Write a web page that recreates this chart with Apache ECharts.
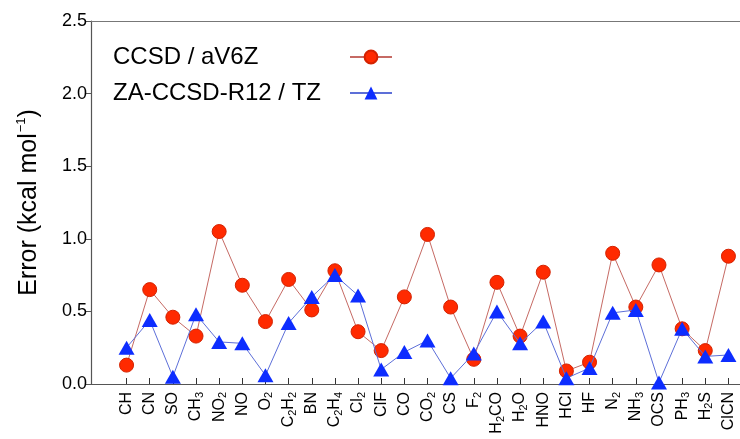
<!DOCTYPE html>
<html>
<head>
<meta charset="utf-8">
<script src="https://cdn.jsdelivr.net/npm/echarts@6/dist/echarts.min.js"></script>
<style>
  html, body { margin: 0; padding: 0; background: #fff; }
  #chart { width: 740px; height: 439px; }
</style>
</head>
<body>
<div id="chart"></div>
<script>
// Molecules in the test set (digits are rendered as subscripts)
const molecules = ['CH','CN','SO','CH3','NO2','NO','O2','C2H2','BN','C2H4','Cl2','ClF','CO','CO2','CS','F2','H2CO','H2O','HNO','HCl','HF','N2','NH3','OCS','PH3','H2S','ClCN'];

// Errors in kcal/mol
const ccsdAV6Z = [0.13,0.65,0.46,0.33,1.05,0.68,0.43,0.72,0.51,0.78,0.36,0.23,0.60,1.03,0.53,0.17,0.70,0.33,0.77,0.09,0.15,0.90,0.53,0.82,0.38,0.23,0.88];
const zaCcsdR12TZ = [0.25,0.44,0.05,0.48,0.29,0.28,0.06,0.42,0.60,0.75,0.61,0.10,0.22,0.30,0.04,0.21,0.50,0.28,0.43,0.04,0.11,0.49,0.51,0.01,0.38,0.19,0.20];

const seriesNames = ['CCSD / aV6Z', 'ZA-CCSD-R12 / TZ'];
const yTicks = [0, 0.5, 1.0, 1.5, 2.0, 2.5];

const FONT = '"Liberation Sans", Arial, Helvetica, sans-serif';

// Turn "C2H4" into rich text with subscripted digits
function formula(name) {
  return name.split(/(\d+)/).filter(s => s.length).map(s =>
    /^\d+$/.test(s) ? '{s|' + s + '}' : '{n|' + s + '}'
  ).join('');
}

const chart = echarts.init(document.getElementById('chart'), null, { renderer: 'canvas' });

const option = {
  backgroundColor: '#ffffff',
  animation: false,
  grid: [
    { left: 115, top: 21, width: 630, height: 363, containLabel: false },
    { left: 91, top: 21, right: 0, height: 363, containLabel: false }
  ],
  legend: {
    orient: 'vertical',
    left: 108,
    top: 40,
    align: 'right',
    padding: 5,
    itemGap: 12,
    itemWidth: 42,
    itemHeight: 16,
    data: seriesNames,
    formatter: name => '{t|' + name + '}',
    textStyle: {
      rich: {
        t: { width: 232, align: 'left', fontSize: 24, lineHeight: 20, fontFamily: FONT, color: '#000' }
      }
    }
  },
  xAxis: [
    {
      type: 'category',
      gridIndex: 0,
      data: molecules,
      boundaryGap: true,
      axisLine: { show: false },
      axisTick: { show: true, inside: true, length: 6, alignWithLabel: true, lineStyle: { color: '#333', width: 1 } },
      axisLabel: {
        interval: 0,
        rotate: 90,
        margin: 8,
        color: '#000',
        formatter: v => formula(v),
        rich: {
          n: { fontSize: 16, lineHeight: 19, verticalAlign: 'middle', fontFamily: FONT, color: '#000' },
          s: { fontSize: 11, lineHeight: 11, verticalAlign: 'bottom', fontFamily: FONT, color: '#000' }
        }
      },
      splitLine: { show: false }
    },
    {
      type: 'value',
      gridIndex: 1,
      position: 'bottom',
      min: 0, max: 1,
      axisLine: { show: true, onZero: false, lineStyle: { color: '#555', width: 1.2 } },
      axisTick: { show: false },
      axisLabel: { show: false },
      splitLine: { show: false }
    },
    {
      type: 'value',
      gridIndex: 1,
      position: 'top',
      min: 0, max: 1,
      axisLine: { show: true, onZero: false, lineStyle: { color: '#777', width: 1.2 } },
      axisTick: { show: false },
      axisLabel: { show: false },
      splitLine: { show: false }
    }
  ],
  yAxis: [
    {
      type: 'value',
      gridIndex: 0,
      min: yTicks[0],
      max: yTicks[yTicks.length - 1],
      interval: 0.5,
      offset: 24,
      name: '{a|Error (kcal mol}{s|−1}{a|)}',
      nameLocation: 'middle',
      nameGap: 48,
      nameTextStyle: {
        rich: {
          a: { fontSize: 25, lineHeight: 28, fontFamily: FONT, color: '#000', verticalAlign: 'middle' },
          s: { fontSize: 13, lineHeight: 28, fontFamily: FONT, color: '#000', verticalAlign: 'top', padding: [0, 0, 0, 1] }
        }
      },
      axisLine: { show: true, lineStyle: { color: '#555', width: 1.2 } },
      axisTick: { show: true, inside: false, length: 5, lineStyle: { color: '#555', width: 1 } },
      axisLabel: {
        margin: 4,
        fontSize: 18,
        fontFamily: FONT,
        color: '#000',
        formatter: v => v.toFixed(1)
      },
      splitLine: { show: false }
    },
    {
      type: 'value',
      gridIndex: 1,
      min: 0, max: 1,
      show: false
    }
  ],
  series: [
    {
      name: seriesNames[0],
      type: 'line',
      xAxisIndex: 0,
      yAxisIndex: 0,
      data: ccsdAV6Z,
      symbol: 'circle',
      symbolSize: 14,
      showAllSymbol: true,
      lineStyle: { color: '#c66a64', width: 1 },
      itemStyle: { color: '#ff2a00', borderColor: '#d42200', borderWidth: 1, opacity: 1 },
      z: 2
    },
    {
      name: seriesNames[1],
      type: 'line',
      xAxisIndex: 0,
      yAxisIndex: 0,
      data: zaCcsdR12TZ,
      symbol: 'triangle',
      symbolSize: [16, 14],
      showAllSymbol: true,
      lineStyle: { color: '#5d6fd8', width: 1 },
      itemStyle: { color: '#0d2dff', borderColor: '#0d2dff', borderWidth: 0, opacity: 1 },
      z: 3
    }
  ]
};

chart.setOption(option);
</script>
</body>
</html>
